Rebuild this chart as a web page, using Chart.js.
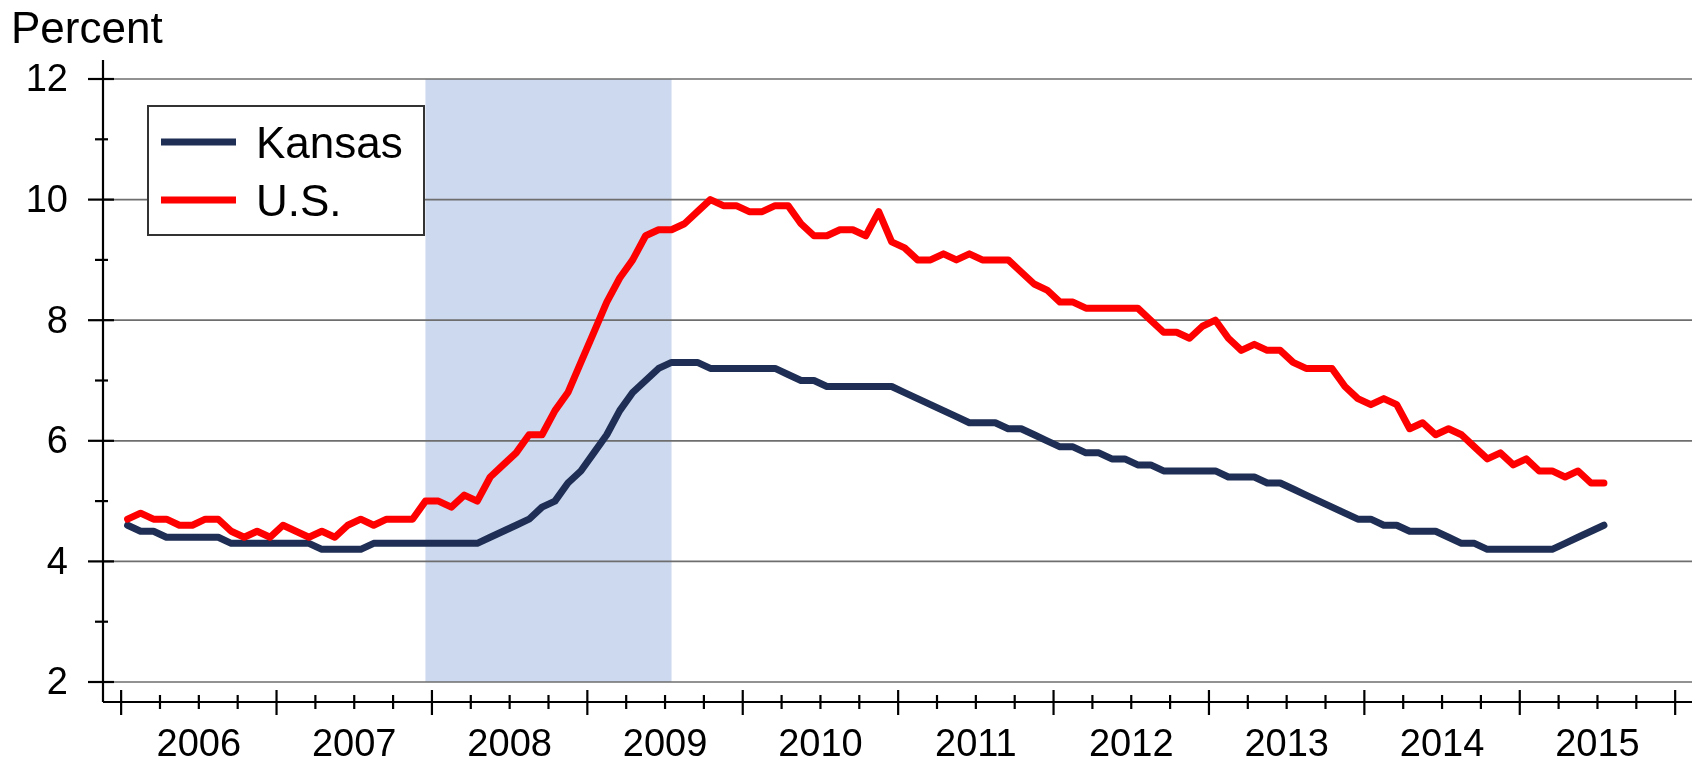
<!DOCTYPE html>
<html>
<head>
<meta charset="utf-8">
<script src="https://cdn.jsdelivr.net/npm/chart.js@4.4.0/dist/chart.umd.min.js"></script>
<style>
    html, body { margin: 0; padding: 0; background: #ffffff; }
    #area { width: 1700px; height: 763px; position: relative; }
</style>
</head>
<body>
<div id="area"><canvas id="grafico"></canvas></div>
<script>
// ===== DATA (monthly, Jan 2006 - Jul 2015) =====
const years = ['2006', '2007', '2008', '2009', '2010', '2011', '2012', '2013', '2014', '2015'];
const yTicks = [2, 4, 6, 8, 10, 12];
// recession shading, month index (Dec 2007 .. Jul 2009)
const recession = [23, 42];

const kansas = [
    4.6, 4.5, 4.5, 4.4, 4.4, 4.4, 4.4, 4.4, 4.3, 4.3, 4.3, 4.3,
    4.3, 4.3, 4.3, 4.2, 4.2, 4.2, 4.2, 4.3, 4.3, 4.3, 4.3, 4.3,
    4.3, 4.3, 4.3, 4.3, 4.4, 4.5, 4.6, 4.7, 4.9, 5.0, 5.3, 5.5,
    5.8, 6.1, 6.5, 6.8, 7.0, 7.2, 7.3, 7.3, 7.3, 7.2, 7.2, 7.2,
    7.2, 7.2, 7.2, 7.1, 7.0, 7.0, 6.9, 6.9, 6.9, 6.9, 6.9, 6.9,
    6.8, 6.7, 6.6, 6.5, 6.4, 6.3, 6.3, 6.3, 6.2, 6.2, 6.1, 6.0,
    5.9, 5.9, 5.8, 5.8, 5.7, 5.7, 5.6, 5.6, 5.5, 5.5, 5.5, 5.5,
    5.5, 5.4, 5.4, 5.4, 5.3, 5.3, 5.2, 5.1, 5.0, 4.9, 4.8, 4.7,
    4.7, 4.6, 4.6, 4.5, 4.5, 4.5, 4.4, 4.3, 4.3, 4.2, 4.2, 4.2,
    4.2, 4.2, 4.2, 4.3, 4.4, 4.5, 4.6
];

const us = [
    4.7, 4.8, 4.7, 4.7, 4.6, 4.6, 4.7, 4.7, 4.5, 4.4, 4.5, 4.4,
    4.6, 4.5, 4.4, 4.5, 4.4, 4.6, 4.7, 4.6, 4.7, 4.7, 4.7, 5.0,
    5.0, 4.9, 5.1, 5.0, 5.4, 5.6, 5.8, 6.1, 6.1, 6.5, 6.8, 7.3,
    7.8, 8.3, 8.7, 9.0, 9.4, 9.5, 9.5, 9.6, 9.8, 10.0, 9.9, 9.9,
    9.8, 9.8, 9.9, 9.9, 9.6, 9.4, 9.4, 9.5, 9.5, 9.4, 9.8, 9.3,
    9.2, 9.0, 9.0, 9.1, 9.0, 9.1, 9.0, 9.0, 9.0, 8.8, 8.6, 8.5,
    8.3, 8.3, 8.2, 8.2, 8.2, 8.2, 8.2, 8.0, 7.8, 7.8, 7.7, 7.9,
    8.0, 7.7, 7.5, 7.6, 7.5, 7.5, 7.3, 7.2, 7.2, 7.2, 6.9, 6.7,
    6.6, 6.7, 6.6, 6.2, 6.3, 6.1, 6.2, 6.1, 5.9, 5.7, 5.8, 5.6,
    5.7, 5.5, 5.5, 5.4, 5.5, 5.3, 5.3
];

// ===== STYLE =====
const FONTE = '"Liberation Sans", Arial, sans-serif';
const COR_KANSAS = '#1f2e54';
const COR_US = '#ff0000';

function linha(ctx, x1, y1, x2, y2) {
    ctx.beginPath();
    ctx.moveTo(x1, y1);
    ctx.lineTo(x2, y2);
    ctx.stroke();
}

// ===== AXES, SHADING, LEGEND =====
const pluginEixos = {
    id: 'eixos',
    beforeDatasetsDraw(chart) {
        const { ctx, chartArea: a, scales: { x, y } } = chart;
        ctx.save();

        // recession band
        const x0 = x.getPixelForValue(recession[0]);
        const x1 = x.getPixelForValue(recession[1]);
        const yTop = y.getPixelForValue(12);
        const yBot = y.getPixelForValue(2);
        ctx.fillStyle = '#ccd9ef';
        ctx.fillRect(x0, yTop, x1 - x0, yBot - yTop);

        // horizontal grid lines
        ctx.strokeStyle = '#6e6e6e';
        ctx.lineWidth = 1.7;
        yTicks.forEach(v => {
            const py = y.getPixelForValue(v);
            linha(ctx, a.left, py, a.right, py);
        });
        ctx.restore();
    },
    afterDatasetsDraw(chart) {
        const { ctx, chartArea: a, scales: { x, y } } = chart;
        const eixoX = a.left;
        const eixoY = a.bottom + 20;
        ctx.save();
        ctx.strokeStyle = '#000000';
        ctx.fillStyle = '#000000';
        ctx.lineWidth = 2.2;

        // axis lines
        linha(ctx, eixoX, a.top - 19, eixoX, eixoY);
        linha(ctx, eixoX, eixoY, a.right, eixoY);

        // y ticks and labels
        ctx.font = '38px ' + FONTE;
        ctx.textAlign = 'right';
        ctx.textBaseline = 'middle';
        for (let v = yTicks[0]; v <= yTicks[yTicks.length - 1]; v++) {
            const py = y.getPixelForValue(v);
            if (yTicks.includes(v)) {
                linha(ctx, eixoX - 15, py, eixoX + 11, py);
                ctx.fillText(String(v), eixoX - 35, py + 2);
            } else {
                linha(ctx, eixoX - 8, py, eixoX + 5, py);
            }
        }

        // x ticks (quarters) and year labels
        for (let q = 0; q <= years.length * 4; q++) {
            const px = x.getPixelForValue(-0.5 + q * 3);
            if (q % 4 === 0) {
                linha(ctx, px, eixoY - 12, px, eixoY + 13);
            } else {
                linha(ctx, px, eixoY - 7, px, eixoY + 7);
            }
        }
        ctx.textAlign = 'center';
        years.forEach((ano, k) => {
            const px = x.getPixelForValue(-0.5 + k * 12 + 6);
            ctx.fillText(ano, px, 746);
        });

        // unit label
        ctx.font = '44px ' + FONTE;
        ctx.textAlign = 'left';
        ctx.textBaseline = 'alphabetic';
        ctx.fillText('Percent', 11, 43);

        // legend
        const caixa = { x: 148, y: 106, w: 276, h: 129 };
        ctx.fillStyle = '#ffffff';
        ctx.fillRect(caixa.x, caixa.y, caixa.w, caixa.h);
        ctx.strokeStyle = '#333333';
        ctx.lineWidth = 2;
        ctx.strokeRect(caixa.x, caixa.y, caixa.w, caixa.h);
        chart.data.datasets.forEach((ds, i) => {
            const ly = 142 + i * 58;
            ctx.strokeStyle = ds.borderColor;
            ctx.lineWidth = 7;
            linha(ctx, 161, ly, 236, ly);
            ctx.fillStyle = '#000000';
            ctx.fillText(ds.label, 256, ly + 16);
        });
        ctx.restore();
    }
};

// ===== CHART =====
document.addEventListener('DOMContentLoaded', function() {
    const ctx = document.getElementById('grafico').getContext('2d');
    new Chart(ctx, {
        type: 'line',
        data: {
            datasets: [
                {
                    label: 'Kansas',
                    data: kansas.map((v, i) => ({ x: i, y: v })),
                    borderColor: COR_KANSAS,
                    borderWidth: 7,
                    pointRadius: 0,
                    tension: 0,
                    borderJoinStyle: 'round',
                    borderCapStyle: 'round',
                    order: 1
                },
                {
                    label: 'U.S.',
                    data: us.map((v, i) => ({ x: i, y: v })),
                    borderColor: COR_US,
                    borderWidth: 7,
                    pointRadius: 0,
                    tension: 0,
                    borderJoinStyle: 'round',
                    borderCapStyle: 'round',
                    order: 0
                }
            ]
        },
        options: {
            responsive: true,
            maintainAspectRatio: false,
            devicePixelRatio: 1,
            animation: false,
            layout: { padding: { left: 103, top: 79, right: 8, bottom: 81 } },
            plugins: {
                legend: { display: false },
                tooltip: { enabled: false }
            },
            scales: {
                x: { type: 'linear', min: -1.9, max: 120.8, display: false },
                y: { type: 'linear', min: 2, max: 12, display: false }
            }
        },
        plugins: [pluginEixos]
    });
});
</script>
</body>
</html>
